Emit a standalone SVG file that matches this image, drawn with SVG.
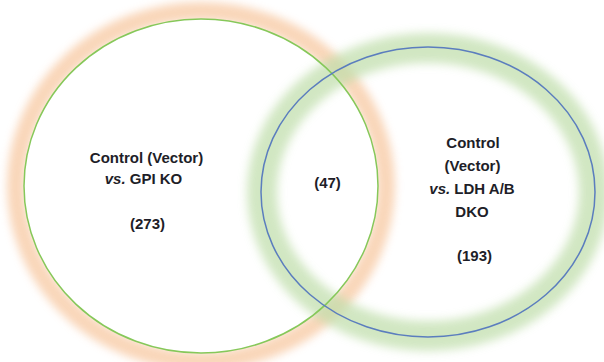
<svg xmlns="http://www.w3.org/2000/svg" width="604" height="362" viewBox="0 0 604 362">
  <defs>
    <filter id="blurO" x="-20%" y="-20%" width="140%" height="140%">
      <feGaussianBlur stdDeviation="4"/>
    </filter>
    <filter id="blurG" x="-20%" y="-20%" width="140%" height="140%">
      <feGaussianBlur stdDeviation="5"/>
    </filter>
  </defs>
  <style>
    text { font-family: "Liberation Sans", Arial, sans-serif; font-weight: bold; font-size: 15px; fill: #1e1e28; text-anchor: middle; }
    .it { font-style: italic; }
  </style>
  <rect width="604" height="362" fill="#ffffff"/>
  <g id="set-gpi">
    <ellipse cx="201" cy="186" rx="185" ry="175" fill="none" stroke="#F8CCA8" stroke-width="18" filter="url(#blurO)" opacity="0.8"/>
    <ellipse cx="201" cy="186" rx="177" ry="167" fill="#ffffff"/>
  </g>
  <g id="set-ldh">
    <ellipse cx="428" cy="192" rx="166" ry="144" fill="none" stroke="#C0DEAB" stroke-width="30" filter="url(#blurG)" opacity="0.72"/>
  </g>
  <g id="outlines">
    <ellipse cx="201" cy="186" rx="177" ry="167" fill="none" stroke="#86C85A" stroke-width="1.5"/>
    <ellipse cx="428" cy="192" rx="167" ry="145" fill="none" stroke="#5B7DBE" stroke-width="1.5"/>
  </g>
  <g id="label-gpi">
    <text x="146.5" y="163">Control (Vector)</text>
    <text x="143.5" y="184"><tspan class="it">vs.</tspan> GPI KO</text>
    <text x="147.5" y="229">(273)</text>
  </g>
  <g id="label-overlap">
    <text x="327.5" y="188">(47)</text>
  </g>
  <g id="label-ldh">
    <text x="473" y="148">Control</text>
    <text x="472.5" y="171">(Vector)</text>
    <text x="472" y="194"><tspan class="it">vs.</tspan> LDH A/B</text>
    <text x="472" y="217">DKO</text>
    <text x="474.5" y="261">(193)</text>
  </g>
</svg>
